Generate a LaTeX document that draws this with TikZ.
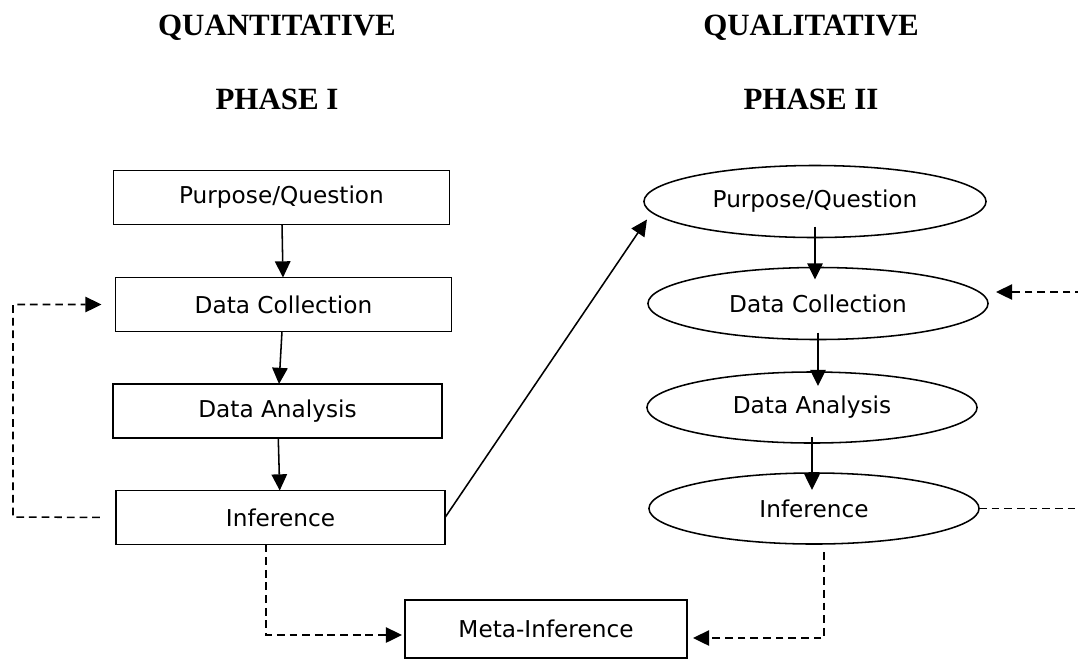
\documentclass[tikz,border=0pt]{standalone}
\usepackage{fontspec}
\setmainfont{Liberation Serif}
\newfontfamily\boxfont{DejaVu Sans}
\usetikzlibrary{shapes.geometric,arrows.meta}
\tikzset{
	head/.style={anchor=base, font=\fontsize{22}{26}\selectfont\bfseries},
	stepbox/.style={draw, rectangle, line width=1.1pt, inner sep=0pt, outer sep=0pt, minimum width=8.4cm, minimum height=1.35cm, font=\boxfont\fontsize{16.5}{20}\selectfont},
	stepoval/.style={draw, ellipse, line width=1.1pt, inner sep=0pt, outer sep=0pt, minimum width=8.4cm, minimum height=1.8cm, font=\boxfont\fontsize{16.5}{20}\selectfont},
	arr/.style={line width=1.1pt, -{Triangle[length=11.5pt,width=11pt]}},
	dasharr/.style={arr, dash pattern=on 5.5pt off 3.5pt}
}
\begin{document}
\begin{tikzpicture}[x=0.025cm, y=-0.025cm]
	\useasboundingbox (0,0) rectangle (1078,660);
	\clip (0,0) rectangle (1078,660);
			    \node[head] (HA) at (277,35) {QUANTITATIVE};
			    \node[head] (HB) at (277,109) {PHASE I};
			    \node[head] (HC) at (811,35) {QUALITATIVE};
			    \node[head] (HD) at (811,109) {PHASE II};
			    
			    \node[stepbox] (p1) at (281.5,197.5) {Purpose/Question};
		    	\node[stepbox] (d1) at (283.5,304.5) {Data Collection};
		    	\node[stepbox, minimum width=8.225cm] (a1) at (277.5,411) {Data Analysis};
		    	\node[stepbox, minimum width=8.225cm] (i1) at (280.5,517.5) {Inference};
		    	\node[stepbox, minimum width=7.05cm, minimum height=1.45cm] (m) at (546,629) {Meta-Inference};
		    	
		    	\node[stepoval, minimum width=8.55cm] (q2) at (815,201.5) {Purpose/Question};
		    	\node[stepoval, minimum width=8.5cm] (d2) at (818,303.5) {Data Collection};
		    	\node[stepoval, minimum width=8.25cm, minimum height=1.775cm] (a2) at (812,407.5) {Data Analysis};
		    	\node[stepoval, minimum width=8.25cm, minimum height=1.775cm] (i2) at (814,508.5) {Inference};
		    	
		    	\coordinate (lb) at (13,517);
		    	\coordinate (rb) at (1100,292);
		    	
		    	\draw[arr] (p1)--(d1);
		    	\draw[arr] (d1)--(a1);
		    	\draw[arr] (a1)--(i1);
		    	\draw[arr] (i1.east)--([xshift=0.075cm, yshift=-0.45cm]q2.west);
		    	\draw[arr] ([yshift=0.275cm]q2.south)--([yshift=-0.3cm]q2.south |- d2.north);
		    	\draw[arr] ([yshift=0.175cm]d2.south)--([yshift=-0.35cm]d2.south |- a2.north);
		    	\draw[arr] ([yshift=0.15cm]a2.south)--([yshift=-0.425cm]a2.south |- i2.north);
		    	\draw[dasharr, shorten <=0.4cm, shorten >=0.35cm] (i1.west)--(lb) |- (d1.west);
		    	\draw[dasharr, shorten >=0.2cm] (i2.east) -| (rb)--(d2.east |- rb);
	    	    \draw[dasharr, shorten >=0.075cm] ([xshift=-0.36cm]i1.south) |- ([yshift=-0.15cm]m.west);
	    	    \draw[dasharr, shorten >=0.15cm] ([xshift=0.25cm, yshift=-0.2cm]i2.south) |- ([yshift=-0.225cm]m.east);
		    \end{tikzpicture}
\end{document}
